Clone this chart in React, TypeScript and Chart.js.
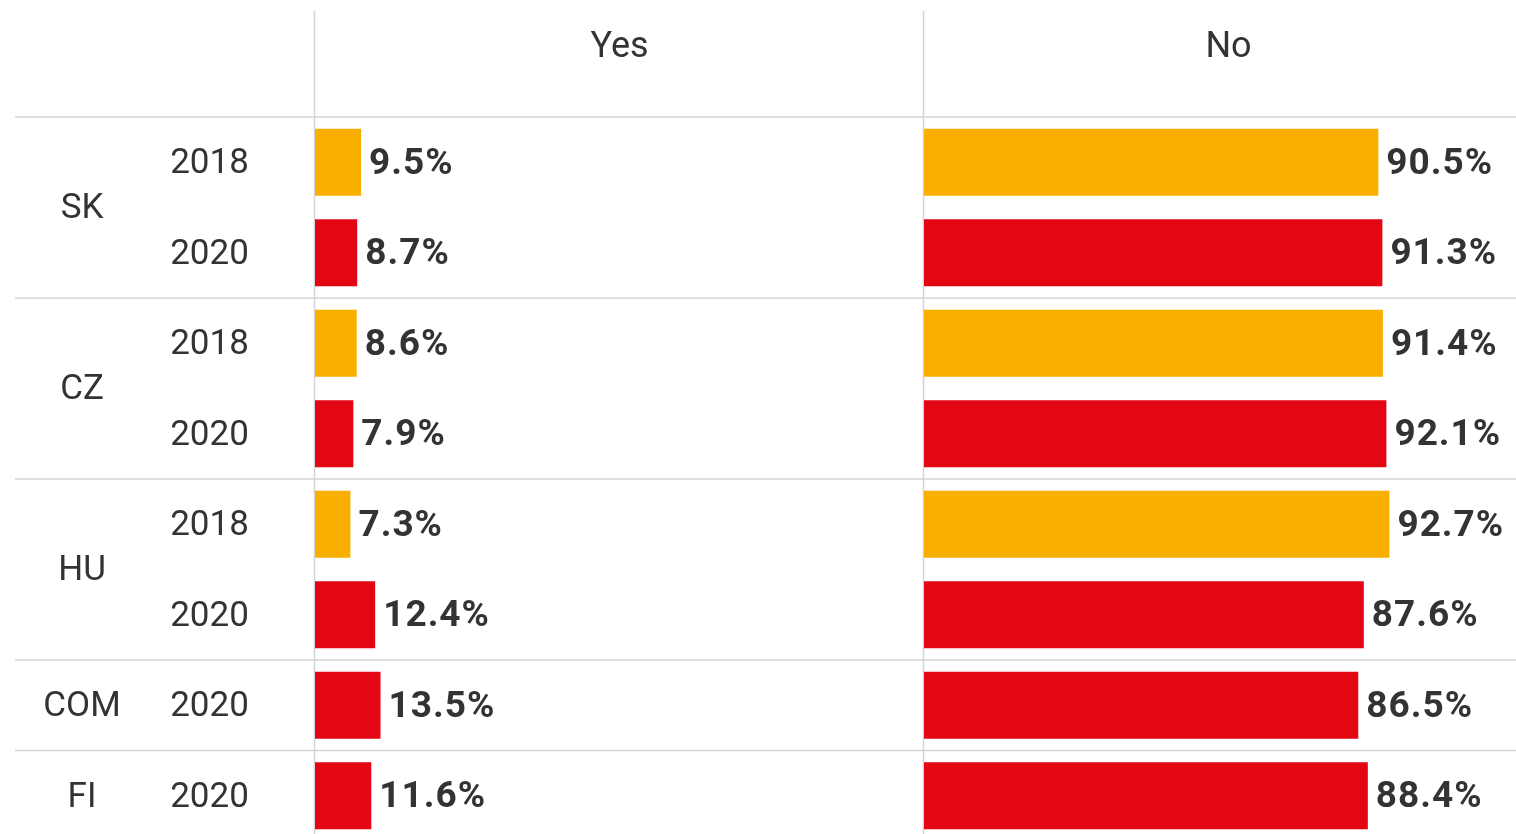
import React, { useEffect, useRef } from "react";
import { Chart, registerables } from "chart.js";

Chart.register(...registerables);

const countries = ["SK", "SK", "CZ", "CZ", "HU", "HU", "COM", "FI"];
const years = ["2018", "2020", "2018", "2020", "2018", "2020", "2020", "2020"];
const yesValues = [9.5, 8.7, 8.6, 7.9, 7.3, 12.4, 13.5, 11.6];
const noValues = [90.5, 91.3, 91.4, 92.1, 92.7, 87.6, 86.5, 88.4];
const panelTitles = ["Yes", "No"];
const yesMax = 125.5;
const noMax = 121.3;

const yearColors: Record<string, string> = { "2018": "#F8AF00", "2020": "#E30613" };
const FONT = "Roboto, 'Noto Sans', sans-serif";
const TEXT = "#333333";
const LINE = "#d4d4d4";

const tablePlugin = {
  id: "tablePlugin",
  beforeDatasetsDraw(chart: any) {
    const ctx = chart.ctx;
    const area = chart.chartArea;
    const y = chart.scales.y;
    const xYes = chart.scales.xYes;
    const xNo = chart.scales.xNo;
    const step = y.getPixelForValue(1) - y.getPixelForValue(0);
    ctx.save();
    ctx.strokeStyle = LINE;
    ctx.lineWidth = 1.5;
    ctx.beginPath();
    ctx.moveTo(15, area.top);
    ctx.lineTo(chart.width, area.top);
    ctx.stroke();
    for (let i = 1; i < countries.length; i++) {
      if (countries[i] !== countries[i - 1]) {
        const yy = y.getPixelForValue(i) - step / 2;
        ctx.beginPath();
        ctx.moveTo(15, yy);
        ctx.lineTo(chart.width, yy);
        ctx.stroke();
      }
    }
    [xYes.left, xNo.left].forEach((xx: number) => {
      ctx.beginPath();
      ctx.moveTo(xx - 0.5, 11);
      ctx.lineTo(xx - 0.5, chart.height);
      ctx.stroke();
    });
    ctx.fillStyle = TEXT;
    ctx.textAlign = "center";
    ctx.textBaseline = "middle";
    ctx.font = `36px ${FONT}`;
    ctx.fillText(panelTitles[0], (xYes.left + xYes.right) / 2, 48);
    ctx.fillText(panelTitles[1], (xNo.left + xNo.right) / 2, 48);
    ctx.font = `35px ${FONT}`;
    years.forEach((yr, i) => {
      ctx.fillText(yr, 209.5, y.getPixelForValue(i) + 2);
    });
    let start = 0;
    for (let i = 1; i <= countries.length; i++) {
      if (i === countries.length || countries[i] !== countries[start]) {
        const yc = (y.getPixelForValue(start) + y.getPixelForValue(i - 1)) / 2;
        ctx.fillText(countries[start], 82, yc + 2);
        start = i;
      }
    }
    ctx.restore();
  },
  afterDatasetsDraw(chart: any) {
    const ctx = chart.ctx;
    ctx.save();
    ctx.fillStyle = TEXT;
    ctx.font = `bold 37px ${FONT}`;
    (ctx as any).letterSpacing = "1px";
    ctx.textAlign = "left";
    ctx.textBaseline = "middle";
    chart.data.datasets.forEach((ds: any, di: number) => {
      const meta = chart.getDatasetMeta(di);
      meta.data.forEach((bar: any, i: number) => {
        ctx.fillText(ds.data[i].toFixed(1) + "%", bar.x + 8, bar.y + 2);
      });
    });
    ctx.restore();
  },
};

export default function App() {
  const ref = useRef<HTMLCanvasElement>(null);
  useEffect(() => {
    if (!ref.current) return;
    const colors = years.map((y) => yearColors[y]);
    const chart = new Chart(ref.current, {
      type: "bar",
      data: {
        labels: years.map((y, i) => countries[i] + " " + y),
        datasets: [
          {
            label: panelTitles[0],
            data: yesValues,
            xAxisID: "xYes",
            backgroundColor: colors,
            grouped: false,
            barPercentage: 0.74,
            categoryPercentage: 1,
          } as any,
          {
            label: panelTitles[1],
            data: noValues,
            xAxisID: "xNo",
            backgroundColor: colors,
            grouped: false,
            barPercentage: 0.74,
            categoryPercentage: 1,
          } as any,
        ],
      },
      options: {
        indexAxis: "y",
        animation: false,
        responsive: false,
        maintainAspectRatio: false,
        layout: { padding: { left: 315, right: 0, top: 117, bottom: 0 } },
        scales: {
          xYes: {
            type: "linear",
            position: "bottom",
            min: 0,
            max: yesMax,
            display: false,
            stack: "panels",
            stackWeight: 1,
          } as any,
          xNo: {
            type: "linear",
            position: "bottom",
            min: 0,
            max: noMax,
            display: false,
            stack: "panels",
            stackWeight: 1,
          } as any,
          y: { display: false },
        },
        plugins: { legend: { display: false }, tooltip: { enabled: false } },
      },
      plugins: [tablePlugin],
    });
    return () => chart.destroy();
  }, []);
  return (
    <div style={{ position: "absolute", left: 0, top: 0, width: 1516, height: 834, overflow: "hidden", background: "#fff" }}>
      <canvas ref={ref} width={1533} height={841} style={{ width: 1533, height: 841, display: "block" }} />
    </div>
  );
}
